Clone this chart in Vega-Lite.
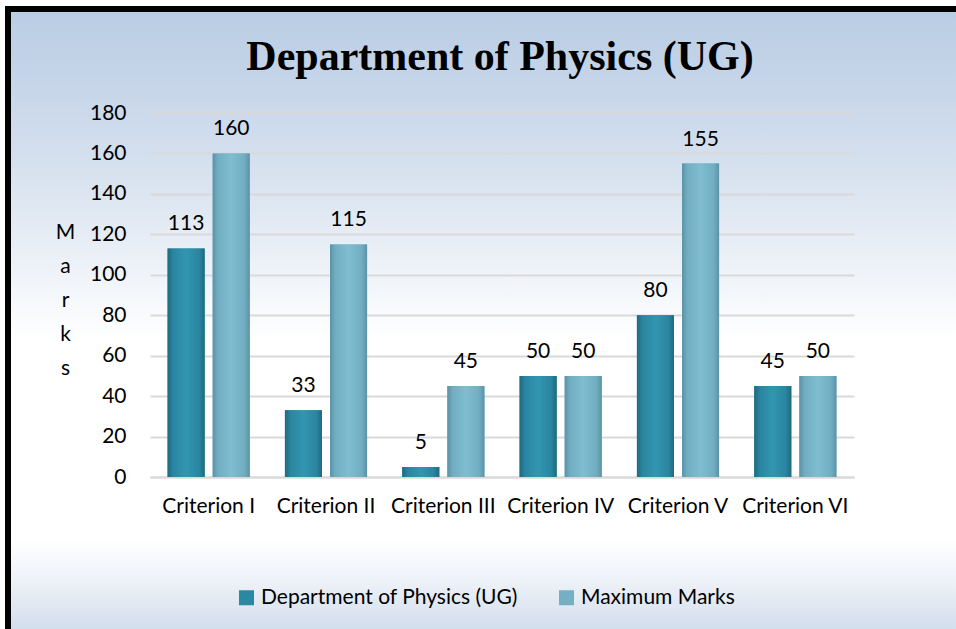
{
  "$schema": "https://vega.github.io/schema/vega-lite/v6.json",
  "width": 948,
  "height": 620,
  "autosize": {"type": "none"},
  "padding": {"left": 8, "top": 9, "right": 0, "bottom": 0},
  "background": "#ffffff",
  "view": {
    "fill": {"gradient": "linear", "x1": 0, "y1": 0, "x2": 0, "y2": 1, "stops": [
      {"offset": 0, "color": "#b9cde4"},
      {"offset": 0.147, "color": "#c9d7ea"},
      {"offset": 0.308, "color": "#dde6f1"},
      {"offset": 0.453, "color": "#f3f6fa"},
      {"offset": 0.534, "color": "#ffffff"},
      {"offset": 0.856, "color": "#ffffff"},
      {"offset": 0.921, "color": "#eef2f8"},
      {"offset": 1, "color": "#d3deed"}
    ]},
    "stroke": "#000000",
    "strokeWidth": 6,
    "strokeDash": [948, 1568, 620, 0],
    "strokeCap": "square"
  },
  "title": {
    "text": "Department of Physics (UG)",
    "font": "Liberation Serif",
    "fontSize": 42,
    "fontWeight": "bold",
    "color": "#000000",
    "anchor": "middle",
    "frame": "group",
    "orient": "top",
    "offset": -70,
    "dx": 18
  },
  "data": {"values": [
    {"criterion": "Criterion I", "series": "Department of Physics (UG)", "marks": 113},
    {"criterion": "Criterion I", "series": "Maximum Marks", "marks": 160},
    {"criterion": "Criterion II", "series": "Department of Physics (UG)", "marks": 33},
    {"criterion": "Criterion II", "series": "Maximum Marks", "marks": 115},
    {"criterion": "Criterion III", "series": "Department of Physics (UG)", "marks": 5},
    {"criterion": "Criterion III", "series": "Maximum Marks", "marks": 45},
    {"criterion": "Criterion IV", "series": "Department of Physics (UG)", "marks": 50},
    {"criterion": "Criterion IV", "series": "Maximum Marks", "marks": 50},
    {"criterion": "Criterion V", "series": "Department of Physics (UG)", "marks": 80},
    {"criterion": "Criterion V", "series": "Maximum Marks", "marks": 155},
    {"criterion": "Criterion VI", "series": "Department of Physics (UG)", "marks": 45},
    {"criterion": "Criterion VI", "series": "Maximum Marks", "marks": 50}
  ]},
  "encoding": {
    "x": {
      "field": "criterion", "type": "nominal", "sort": null,
      "scale": {"range": [142, 846], "paddingInner": 0, "paddingOuter": 0},
      "axis": {
        "offset": -152, "domainColor": "#d9d9d9", "domainWidth": 2, "ticks": false,
        "labelPadding": 18, "labelAngle": 0, "labelFont": "Lato", "labelFontSize": 21,
        "labelColor": "#000000", "title": null, "grid": false
      }
    },
    "xOffset": {
      "field": "series", "type": "nominal", "sort": null,
      "scale": {"paddingInner": 0.178, "paddingOuter": 0.39}
    },
    "y": {
      "field": "marks", "type": "quantitative",
      "scale": {"domain": [0, 180], "range": [468, 104], "nice": false},
      "axis": {
        "values": [0, 20, 40, 60, 80, 100, 120, 140, 160, 180],
        "offset": -142, "domain": false, "ticks": false, "tickSize": 0,
        "labelPadding": 24, "labelFont": "Lato", "labelFontSize": 21, "labelColor": "#000000",
        "gridColor": "#d9d9d9", "gridWidth": 2,
        "title": ["M", "a", "r", "k", "s"], "titleAngle": 0, "titleX": -85, "titleY": 229,
        "titleAlign": "center", "titleBaseline": "alphabetic", "titleLineHeight": 34,
        "titleFont": "Lato", "titleFontSize": 21, "titleFontWeight": "normal", "titleColor": "#000000"
      }
    }
  },
  "layer": [
    {
      "mark": {"type": "bar"},
      "encoding": {
        "color": {
          "field": "series", "type": "nominal", "sort": null,
          "scale": {"range": ["#2b88a2", "#74afc3"]},
          "legend": {
            "orient": "none", "legendX": 228, "legendY": 578, "direction": "horizontal",
            "title": null, "symbolType": "square", "symbolSize": 225, "symbolStrokeWidth": 0,
            "labelFont": "Lato", "labelFontSize": 21, "labelColor": "#000000", "labelLimit": 0,
            "labelOffset": 4, "columnPadding": 38
          }
        }
      }
    },
    {
      "mark": {"type": "bar"},
      "encoding": {
        "fill": {
          "condition": {
            "test": "datum.series === 'Maximum Marks'",
            "value": {"gradient": "linear", "x1": 0, "y1": 0, "x2": 1, "y2": 0, "stops": [
              {"offset": 0, "color": "#5a93a7"},
              {"offset": 0.15, "color": "#72aec2"},
              {"offset": 0.5, "color": "#7fbdd1"},
              {"offset": 0.85, "color": "#72aec2"},
              {"offset": 1, "color": "#5a93a7"}
            ]}
          },
          "value": {"gradient": "linear", "x1": 0, "y1": 0, "x2": 1, "y2": 0, "stops": [
            {"offset": 0, "color": "#1e6a80"},
            {"offset": 0.15, "color": "#2a85a0"},
            {"offset": 0.5, "color": "#3296b0"},
            {"offset": 0.85, "color": "#2a85a0"},
            {"offset": 1, "color": "#1e6a80"}
          ]}
        }
      }
    },
    {
      "mark": {"type": "text", "baseline": "alphabetic", "dy": -18, "font": "Lato", "fontSize": 21, "color": "#000000"},
      "encoding": {"text": {"field": "marks", "type": "quantitative"}}
    }
  ]
}
